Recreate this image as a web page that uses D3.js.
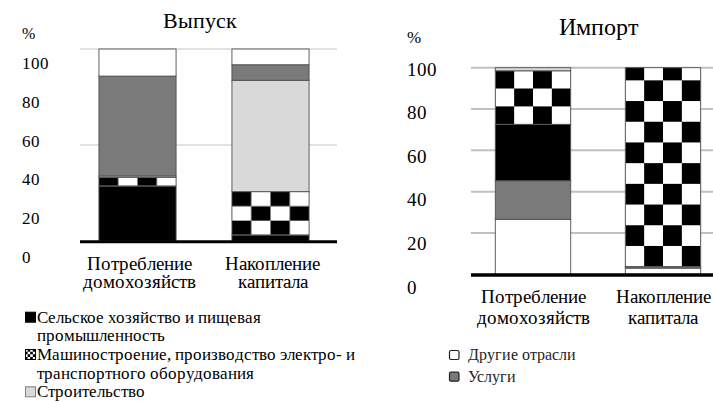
<!DOCTYPE html>
<html><head><meta charset="utf-8">
<script src="https://cdn.jsdelivr.net/npm/d3@7"></script>
<style>
@font-face{font-family:"RefSerif";src:local("Liberation Serif"),local("LiberationSerif"),local("LiberationSerif-Regular"),local("Times New Roman"),local("TimesNewRomanPSMT"),local("Tinos"),local("Tinos-Regular"),local("DejaVu Serif"),local("DejaVuSerif"),local("Noto Serif"),local("NotoSerif-Regular"),local("Nimbus Roman"),local("FreeSerif");}
html,body{margin:0;padding:0;background:#fff;}
svg text{font-family:"RefSerif","Liberation Serif","Times New Roman",Times,"DejaVu Serif","Noto Serif",serif !important;}
</style></head>
<body>
<svg id="chart" width="713" height="402"></svg>
<script>
// ---------- DATA ----------
const categories = ["Потребление домохозяйств", "Накопление капитала"];
const categoryLines = [["Потребление", "домохозяйств"], ["Накопление", "капитала"]];
const seriesKeys = ["agr", "mach", "constr", "serv", "other"];
const seriesNames = {
  agr: "Сельское хозяйство и пищевая промышленность",
  mach: "Машиностроение, производство электро- и транспортного оборудования",
  constr: "Строительство",
  serv: "Услуги",
  other: "Другие отрасли"
};
// Выпуск (output), %
const outAgr    = [28.6, 3.1];
const outMach   = [4.6, 22.6];
const outConstr = [0.7, 58.0];
const outServ   = [52.0, 8.1];
const outOther  = [14.1, 8.2];
// Импорт (import), %
const impAgr    = [27.3, 0.0];
const impMach   = [25.9, 96.3];
const impConstr = [1.5, 0.0];
const impServ   = [18.7, 0.7];
const impOther  = [26.6, 3.0];
// tick labels
const tickValues = [0, 20, 40, 60, 80, 100];
const titles = ["Выпуск", "Импорт"];
const legendLeftLines = [
  ["agr", "Сельское хозяйство и пищевая"], [null, "промышленность"],
  ["mach", "Машиностроение, производство электро- и"], [null, "транспортного оборудования"],
  ["constr", "Строительство"]
];
const legendRightItems = ["other", "serv"];

// ---------- STYLE ----------
const colors = {agr: "#000", mach: "url(#chk)", constr: "#d9d9d9", serv: "#7a7a7a", other: "#fff"};

const svg = d3.select("#chart");
const defs = svg.append("defs");

function table(a, m, c, s, o) {
  return categories.map((cat, i) => ({cat, agr: a[i], mach: m[i], constr: c[i], serv: s[i], other: o[i]}));
}
const outData = table(outAgr, outMach, outConstr, outServ, outOther);
const impData = table(impAgr, impMach, impConstr, impServ, impOther);

function txt(sel, size) {
  return sel.style("font-size", size + "px").attr("fill", "#000");
}

let patId = 0;
function checkerPattern(x, yBottom, w, h, bottomBlackFirst) {
  const id = "chk" + (patId++);
  const p = defs.append("pattern").attr("id", id)
    .attr("patternUnits", "userSpaceOnUse")
    .attr("x", x).attr("y", bottomBlackFirst ? yBottom - h : yBottom)
    .attr("width", 2 * w).attr("height", 2 * h);
  p.append("rect").attr("width", 2 * w).attr("height", 2 * h).attr("fill", "#fff");
  p.append("rect").attr("x", 0).attr("y", 0).attr("width", w).attr("height", h).attr("fill", "#000");
  p.append("rect").attr("x", w).attr("y", h).attr("width", w).attr("height", h).attr("fill", "#000");
  return "url(#" + id + ")";
}

function drawChart(cfg) {
  const g = svg.append("g");
  const x = d3.scaleBand().domain(categories).range(cfg.xRange).paddingInner(0.42).paddingOuter(0.21);
  const y = d3.scaleLinear().domain([0, 100]).range(cfg.yRange);
  const yLab = d3.scaleLinear().domain([0, 100]).range(cfg.labRange);

  // gridlines
  g.append("g").selectAll("line").data(cfg.grid).join("line")
    .attr("x1", cfg.gridX[0]).attr("x2", cfg.gridX[1])
    .attr("y1", d => y(d)).attr("y2", d => y(d))
    .attr("stroke", cfg.gridColor).attr("stroke-width", cfg.gridWidth);

  // stacked bars
  const stack = d3.stack().keys(cfg.order)(cfg.data);
  stack.forEach(layer => {
    const key = layer.key;
    layer.forEach((d, i) => {
      const cat = categories[i];
      const h = y(d[0]) - y(d[1]);
      if (h <= 0.01) return;
      let fill = colors[key];
      if (key === "mach") {
        const pc = cfg.checker[i];
        fill = checkerPattern(x(cat), y(d[0]), x.bandwidth() / 4, pc.h, pc.blackFirst);
      }
      g.append("rect")
        .attr("x", x(cat)).attr("y", y(d[1]))
        .attr("width", x.bandwidth()).attr("height", h)
        .attr("fill", fill).attr("stroke", "#505050").attr("stroke-width", 0.9);
    });
  });

  // baseline
  g.append("line").attr("x1", cfg.gridX[0]).attr("x2", cfg.gridX[1])
    .attr("y1", y(0) + cfg.baseOff).attr("y2", y(0) + cfg.baseOff)
    .attr("stroke", "#000").attr("stroke-width", cfg.baseWidth);

  // y labels
  const ax = d3.axisRight(yLab).tickValues(tickValues).tickSize(0).tickPadding(0).tickFormat(d3.format("d"));
  const axg = g.append("g").attr("transform", `translate(${cfg.labX},0)`).call(ax)
    .attr("font-family", null).attr("font-size", null);
  axg.select(".domain").remove();
  txt(axg.selectAll("text").attr("dy", 0).attr("x", 0), cfg.labSize);

  // % sign
  txt(g.append("text").attr("x", cfg.labX).attr("y", cfg.pctY).text("%"), cfg.pctSize);

  // title
  txt(g.append("text").attr("x", cfg.titleX).attr("y", cfg.titleY).attr("text-anchor", "middle")
    .text(cfg.title), cfg.titleSize);

  // x labels
  categories.forEach((cat, i) => {
    const t = txt(g.append("text").attr("text-anchor", "middle"), cfg.xlabSize);
    categoryLines[i].forEach((ln, j) => {
      t.append("tspan").attr("x", x(cat) + x.bandwidth() / 2 + cfg.xlabDx)
        .attr("y", cfg.xlabY + j * cfg.xlabLH).text(ln);
    });
  });
}

drawChart({
  data: outData, order: ["agr", "mach", "constr", "serv", "other"],
  xRange: [71, 337], yRange: [241, 49], labRange: [262.7, 68.3],
  grid: [50, 100], gridX: [80, 337], gridColor: "#c4c4c4", gridWidth: 1,
  baseOff: 0.8, baseWidth: 3,
  checker: [{h: 14.5, blackFirst: true}, {h: 14.4, blackFirst: true}],
  labX: 21.5, labSize: 17, pctY: 39, pctSize: 16,
  title: titles[0], titleX: 200, titleY: 28, titleSize: 21.5,
  xlabY: 270.3, xlabLH: 17.6, xlabSize: 18.7, xlabDx: 2
});

drawChart({
  data: impData, order: ["other", "serv", "agr", "mach", "constr"],
  xRange: [468, 728], yRange: [274.3, 67.7], labRange: [293.3, 75],
  grid: [20, 40, 60, 80, 100], gridX: [471, 713], gridColor: "#c0c0c0", gridWidth: 2,
  baseOff: 0.7, baseWidth: 3.4,
  checker: [{h: 17.9, blackFirst: true}, {h: 20.7, blackFirst: false}],
  labX: 406.5, labSize: 19.3, pctY: 43, pctSize: 17,
  title: titles[1], titleX: 598.5, titleY: 35, titleSize: 23.5,
  xlabY: 303, xlabLH: 20.5, xlabSize: 19.2, xlabDx: 0
});

// legend left
const legL = svg.append("g");
legendLeftLines.forEach((ln, i) => {
  const yb = 322.7 + i * 18.65;
  if (ln[0]) {
    const k = ln[0];
    let fill = colors[k], stroke = "#000";
    if (k === "mach") fill = checkerPattern(25, yb - 0.5, 2.6, 2.6, true);
    if (k === "constr") stroke = "#808080";
    legL.append("rect").attr("x", 25.5).attr("y", yb - 10.5).attr("width", 10).attr("height", 10)
      .attr("fill", fill).attr("stroke", stroke).attr("stroke-width", 1);
  }
  txt(legL.append("text").attr("x", 37).attr("y", yb).text(ln[1]), 17.2);
});

// legend right
const legR = svg.append("g");
legendRightItems.forEach((k, i) => {
  const yb = 360 + i * 21.7;
  legR.append("rect").attr("x", 449.5).attr("y", yb - 9.5).attr("width", 9.5).attr("height", 9)
    .attr("rx", 1.5).attr("fill", colors[k]).attr("stroke", "#222").attr("stroke-width", 1.2);
  txt(legR.append("text").attr("x", 467.5).attr("y", yb).text(seriesNames[k]), 16).attr("fill", "#222");
});
</script>
</body></html>
